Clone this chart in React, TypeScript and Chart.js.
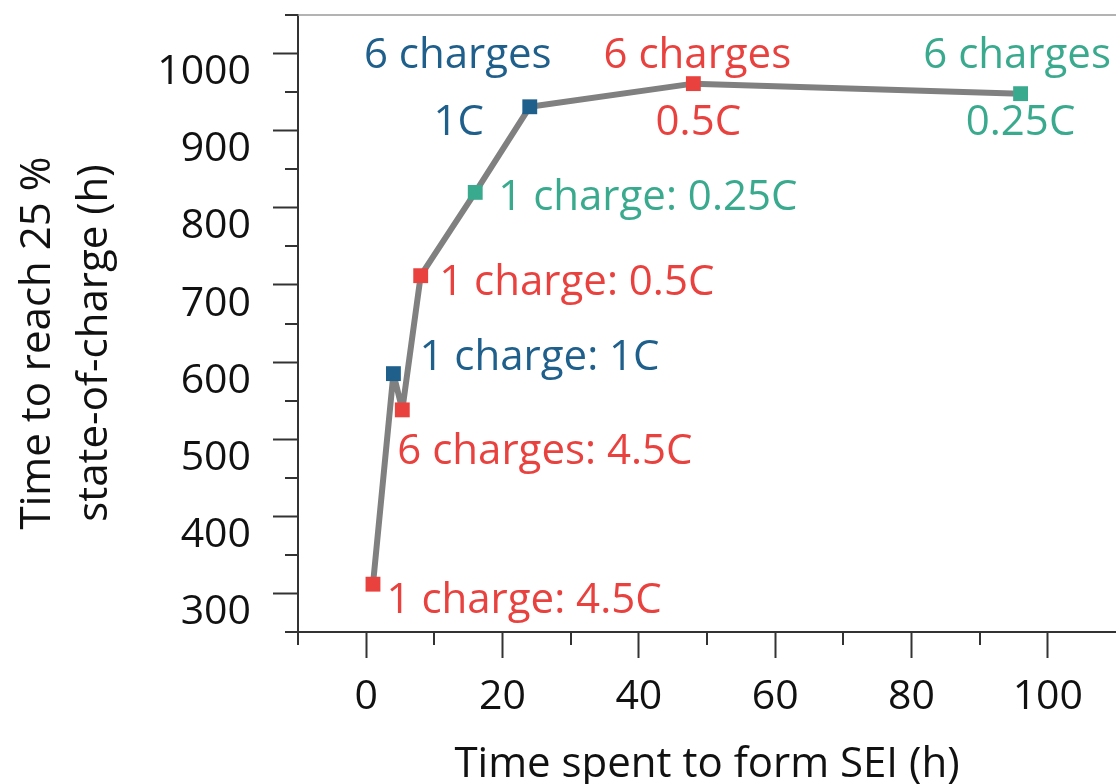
import React, { useEffect, useRef } from 'react';
import { Chart, registerables } from 'chart.js';

Chart.register(...registerables);

// ---------- data ----------
const seiHours = [1, 4, 5.3, 8, 16, 24, 48, 96];
const hoursTo25SoC = [312, 585, 538, 712, 820, 931, 961, 948];
const chargeCounts = [1, 1, 6, 1, 1, 6, 6, 6];
const chargeRates = ['4.5C', '1C', '4.5C', '0.5C', '0.25C', '1C', '0.5C', '0.25C'];
const xMajorTicks = [0, 20, 40, 60, 80, 100];
const xMinorTicks = [-10, 10, 30, 50, 70, 90];
const yMajorTicks = [300, 400, 500, 600, 700, 800, 900, 1000];
const yMinorTicks = [250, 350, 450, 550, 650, 750, 850, 950, 1050];
const xTitle = 'Time spent to form SEI (h)';
const yTitle = ['Time to reach 25 %', 'state-of-charge (h)'];

// ---------- styles ----------
const RATE_COLORS: Record<string, string> = {
  '4.5C': '#e8413e',
  '0.5C': '#e8413e',
  '1C': '#1f5f8b',
  '0.25C': '#3aaa8e',
};
const FONT = "'Open Sans', 'DejaVu Sans', sans-serif";
const AXIS_COLOR = '#333333';

// label placement: pixel offsets from the point (dx, baseline dy) per text line
const LABEL_LAYOUT: { align: CanvasTextAlign; lines: [number, number][] }[] = [
  { align: 'left', lines: [[13.5, 29]] },
  { align: 'left', lines: [[26, -3.5]] },
  { align: 'left', lines: [[-5, 54]] },
  { align: 'left', lines: [[18.5, 19]] },
  { align: 'left', lines: [[23, 18]] },
  { align: 'center', lines: [[-72, -38.5], [-71, 28.5]] },
  { align: 'center', lines: [[4, -16], [5, 51]] },
  { align: 'center', lines: [[-3.5, -25.5], [0, 41.5]] },
];

function labelLines(i: number, nLines: number): string[] {
  const n = chargeCounts[i];
  const word = n === 1 ? 'charge' : 'charges';
  if (nLines === 1) return [`${n} ${word}: ${chargeRates[i]}`];
  return [`${n} ${word}`, chargeRates[i]];
}

const decorPlugin = {
  id: 'decor',
  beforeDatasetsDraw(chart: any) {
    const { ctx, scales } = chart;
    const x = scales.x;
    const y = scales.y;
    ctx.save();
    ctx.font = `42px ${FONT}`;
    ctx.textBaseline = 'alphabetic';
    LABEL_LAYOUT.forEach((lay, i) => {
      const px = x.getPixelForValue(seiHours[i]);
      const py = y.getPixelForValue(hoursTo25SoC[i]);
      const texts = labelLines(i, lay.lines.length);
      ctx.fillStyle = RATE_COLORS[chargeRates[i]];
      ctx.textAlign = lay.align;
      lay.lines.forEach(([dx, dy], k) => {
        ctx.fillText(texts[k], px + dx, py + dy);
      });
    });
    ctx.restore();
  },
  afterDraw(chart: any) {
    const { ctx, chartArea, scales } = chart;
    const x = scales.x;
    const y = scales.y;
    ctx.save();
    // top frame line
    ctx.strokeStyle = '#9a9a9a';
    ctx.lineWidth = 1.5;
    ctx.beginPath();
    ctx.moveTo(chartArea.left, chartArea.top);
    ctx.lineTo(chartArea.right, chartArea.top);
    ctx.stroke();
    // minor ticks
    ctx.strokeStyle = AXIS_COLOR;
    ctx.lineWidth = 2;
    ctx.beginPath();
    xMinorTicks.forEach((v) => {
      const p = Math.round(x.getPixelForValue(v));
      ctx.moveTo(p, chartArea.bottom);
      ctx.lineTo(p, chartArea.bottom + 13);
    });
    yMinorTicks.forEach((v) => {
      const p = Math.round(y.getPixelForValue(v));
      ctx.moveTo(chartArea.left, p);
      ctx.lineTo(chartArea.left - 13, p);
    });
    ctx.stroke();
    // axis titles
    ctx.fillStyle = '#111111';
    ctx.font = `42px ${FONT}`;
    ctx.textAlign = 'center';
    ctx.textBaseline = 'alphabetic';
    ctx.fillText(xTitle, (chartArea.left + chartArea.right) / 2, 777);
    ctx.save();
    ctx.translate(0, 343);
    ctx.rotate(-Math.PI / 2);
    ctx.fillText(yTitle[0], 0, 50);
    ctx.fillText(yTitle[1], 0, 107);
    ctx.restore();
    ctx.restore();
  },
};

export default function App() {
  const canvasRef = useRef<HTMLCanvasElement | null>(null);

  useEffect(() => {
    const canvas = canvasRef.current;
    if (!canvas) return;
    const chart = new Chart(canvas, {
      type: 'line',
      data: {
        datasets: [
          {
            data: seiHours.map((h, i) => ({ x: h, y: hoursTo25SoC[i] })),
            borderColor: '#808080',
            borderWidth: 6,
            borderJoinStyle: 'round',
            tension: 0,
            pointStyle: 'rect',
            pointRadius: 10.5,
            pointHoverRadius: 10.5,
            pointBorderWidth: 0,
            pointBackgroundColor: chargeRates.map((r) => RATE_COLORS[r]),
            clip: false as any,
          },
        ],
      },
      options: {
        animation: false,
        responsive: false,
        events: [],
        layout: { autoPadding: false, padding: { top: 15, left: 0, right: 0, bottom: 0 } },
        plugins: {
          legend: { display: false },
          tooltip: { enabled: false },
        },
        scales: {
          x: {
            type: 'linear',
            min: -10,
            max: 110,
            afterBuildTicks: (s: any) => {
              s.ticks = xMajorTicks.map((v) => ({ value: v }));
            },
            afterFit: (s: any) => {
              s.height = 152;
              s.paddingLeft = 0;
              s.paddingRight = 0;
              s.paddingTop = 0;
              s.paddingBottom = 0;
            },
            border: { display: true, color: AXIS_COLOR, width: 2 },
            grid: {
              drawOnChartArea: false,
              drawTicks: true,
              tickLength: 26,
              tickColor: AXIS_COLOR,
              tickWidth: 2,
            },
            ticks: {
              autoSkip: false,
              maxRotation: 0,
              padding: 15,
              color: '#111111',
              font: { family: FONT, size: 41 },
              callback: (v: any) => String(v),
            },
          },
          y: {
            type: 'linear',
            min: 250,
            max: 1050,
            afterBuildTicks: (s: any) => {
              s.ticks = yMajorTicks.map((v) => ({ value: v }));
            },
            afterFit: (s: any) => {
              s.width = 298;
              s.paddingLeft = 0;
              s.paddingRight = 0;
              s.paddingTop = 0;
              s.paddingBottom = 0;
            },
            border: { display: true, color: AXIS_COLOR, width: 2 },
            grid: {
              drawOnChartArea: false,
              drawTicks: true,
              tickLength: 25,
              tickColor: AXIS_COLOR,
              tickWidth: 2,
            },
            ticks: {
              autoSkip: false,
              padding: 22,
              labelOffset: 19,
              color: '#111111',
              font: { family: FONT, size: 41 },
              callback: (v: any) => String(v),
            },
          },
        },
      },
      plugins: [decorPlugin],
    });
    return () => chart.destroy();
  }, []);

  return (
    <div
      style={{
        position: 'fixed',
        left: 0,
        top: 0,
        width: 1116,
        height: 784,
        background: '#ffffff',
      }}
    >
      <canvas ref={canvasRef} width={1116} height={784} />
    </div>
  );
}
